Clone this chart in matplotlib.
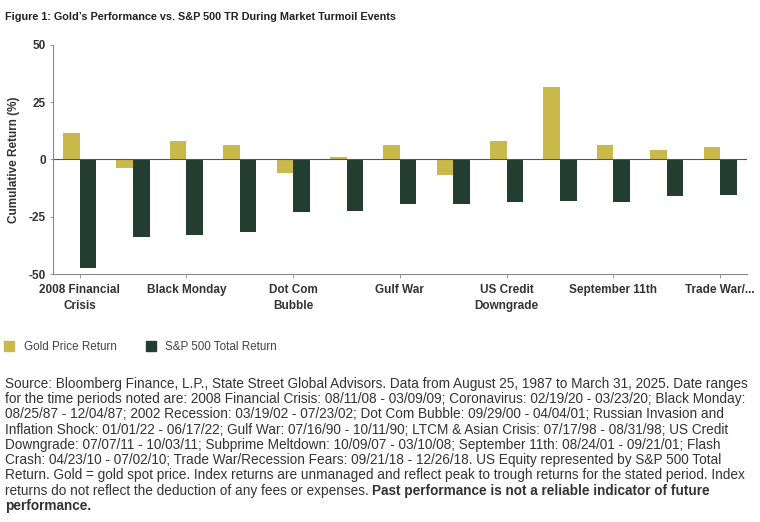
import numpy as np
import matplotlib.pyplot as plt
from matplotlib.patches import Patch

# Data
events = ["2008 Financial Crisis", "Coronavirus", "Black Monday", "2002 Recession",
          "Dot Com Bubble", "Russian Invasion and Inflation Shock", "Gulf War",
          "LTCM & Asian Crisis", "US Credit Downgrade", "Subprime Meltdown",
          "September 11th", "Flash Crash", "Trade War/Recession Fears"]
gold = [11.6, -3.7, 8.0, 6.4, -6.0, 0.9, 6.3, -6.9, 8.0, 31.6, 6.3, 4.3, 5.3]
spx = [-47.3, -33.9, -32.8, -31.7, -22.9, -22.6, -19.3, -19.3, -18.6, -18.3, -18.6, -15.9, -15.6]
tick_idx = [0, 2, 4, 6, 8, 10, 12]
tick_labels = ["2008 Financial\nCrisis", "Black Monday", "Dot Com\nBubble", "Gulf War",
               "US Credit\nDowngrade", "September 11th", "Trade War/..."]

GOLD = "#C9B94B"
GREEN = "#243D31"
plt.rcParams['font.family'] = ["Liberation Sans", "DejaVu Sans"]

fig = plt.figure(figsize=(7.6, 5.22), dpi=100)
ax = fig.add_axes([0.0697, 0.475, 0.913, 0.439])

x = np.arange(len(events))
w = 0.31
ax.bar(x - w / 2, gold, w, color=GOLD)
ax.bar(x + w / 2, spx, w, color=GREEN)
ax.axhline(0, color="#555555", lw=0.8)

ax.set_xlim(-0.5, len(events) - 0.5)
ax.set_ylim(-50, 50)
ax.set_yticks([-50, -25, 0, 25, 50])
ax.set_yticklabels(["-50", "-25", "0", "25", "50"], fontweight="bold", fontsize=8.5, color="#333333")
ax.set_xticks(tick_idx)
ax.set_xticklabels(tick_labels, fontweight="bold", fontsize=8.5, color="#333333", linespacing=1.5)
ax.tick_params(axis="x", length=3, width=0.6, color="#888888", pad=4)
ax.tick_params(axis="y", length=2, width=0.6, color="#888888", pad=3)
ax.set_ylabel("Cumulative Return (%)", fontweight="bold", fontsize=8.5, color="#333333")
ax.yaxis.set_label_coords(-0.047, 0.5)
for s in ["top", "right"]:
    ax.spines[s].set_visible(False)
for s in ["left", "bottom"]:
    ax.spines[s].set_color("#888888")
    ax.spines[s].set_linewidth(0.8)

fig.text(0.006, 0.968, "Figure 1: Gold\u2019s Performance vs. S&P 500 TR During Market Turmoil Events",
         fontweight="bold", fontsize=7.8, color="#222222", va="center")

handles = [Patch(color=GOLD, label="Gold Price Return"), Patch(color=GREEN, label="S&P 500 Total Return")]
fig.legend(handles=handles, loc="center left", bbox_to_anchor=(-0.008, 0.335), ncol=2, frameon=False,
           fontsize=8.4, handlelength=0.85, handleheight=0.85, columnspacing=2.5, handletextpad=0.8,
           labelcolor="#444444")

lines = [
    "Source: Bloomberg Finance, L.P., State Street Global Advisors. Data from August 25, 1987 to March 31, 2025. Date ranges",
    "for the time periods noted are: 2008 Financial Crisis: 08/11/08 - 03/09/09; Coronavirus: 02/19/20 - 03/23/20; Black Monday:",
    "08/25/87 - 12/04/87; 2002 Recession: 03/19/02 - 07/23/02; Dot Com Bubble: 09/29/00 - 04/04/01; Russian Invasion and",
    "Inflation Shock: 01/01/22 - 06/17/22; Gulf War: 07/16/90 - 10/11/90; LTCM & Asian Crisis: 07/17/98 - 08/31/98; US Credit",
    "Downgrade: 07/07/11 - 10/03/11; Subprime Meltdown: 10/09/07 - 03/10/08; September 11th: 08/24/01 - 09/21/01; Flash",
    "Crash: 04/23/10 - 07/02/10; Trade War/Recession Fears: 09/21/18 - 12/26/18. US Equity represented by S&P 500 Total",
    "Return. Gold = gold spot price. Index returns are unmanaged and reflect peak to trough returns for the stated period. Index",
]
fs = 9.85
y0 = 384
step = 15.25
for i, line in enumerate(lines):
    fig.text(0.006, 1 - (y0 + i * step) / 522, line, fontsize=fs, color="#333333", va="center")
t8 = fig.text(0.006, 1 - (y0 + 7 * step) / 522, "returns do not reflect the deduction of any fees or expenses. ",
              fontsize=fs, color="#333333", va="center")
ax.annotate("Past performance is not a reliable indicator of future", xy=(1, 0.5), xycoords=t8,
            va="center", ha="left", fontsize=fs, fontweight="bold", color="#333333", annotation_clip=False)
fig.text(0.006, 1 - (y0 + 8 * step) / 522, "performance.", fontsize=fs, fontweight="bold",
         color="#333333", va="center")

fig.savefig("out.png", dpi=100)
